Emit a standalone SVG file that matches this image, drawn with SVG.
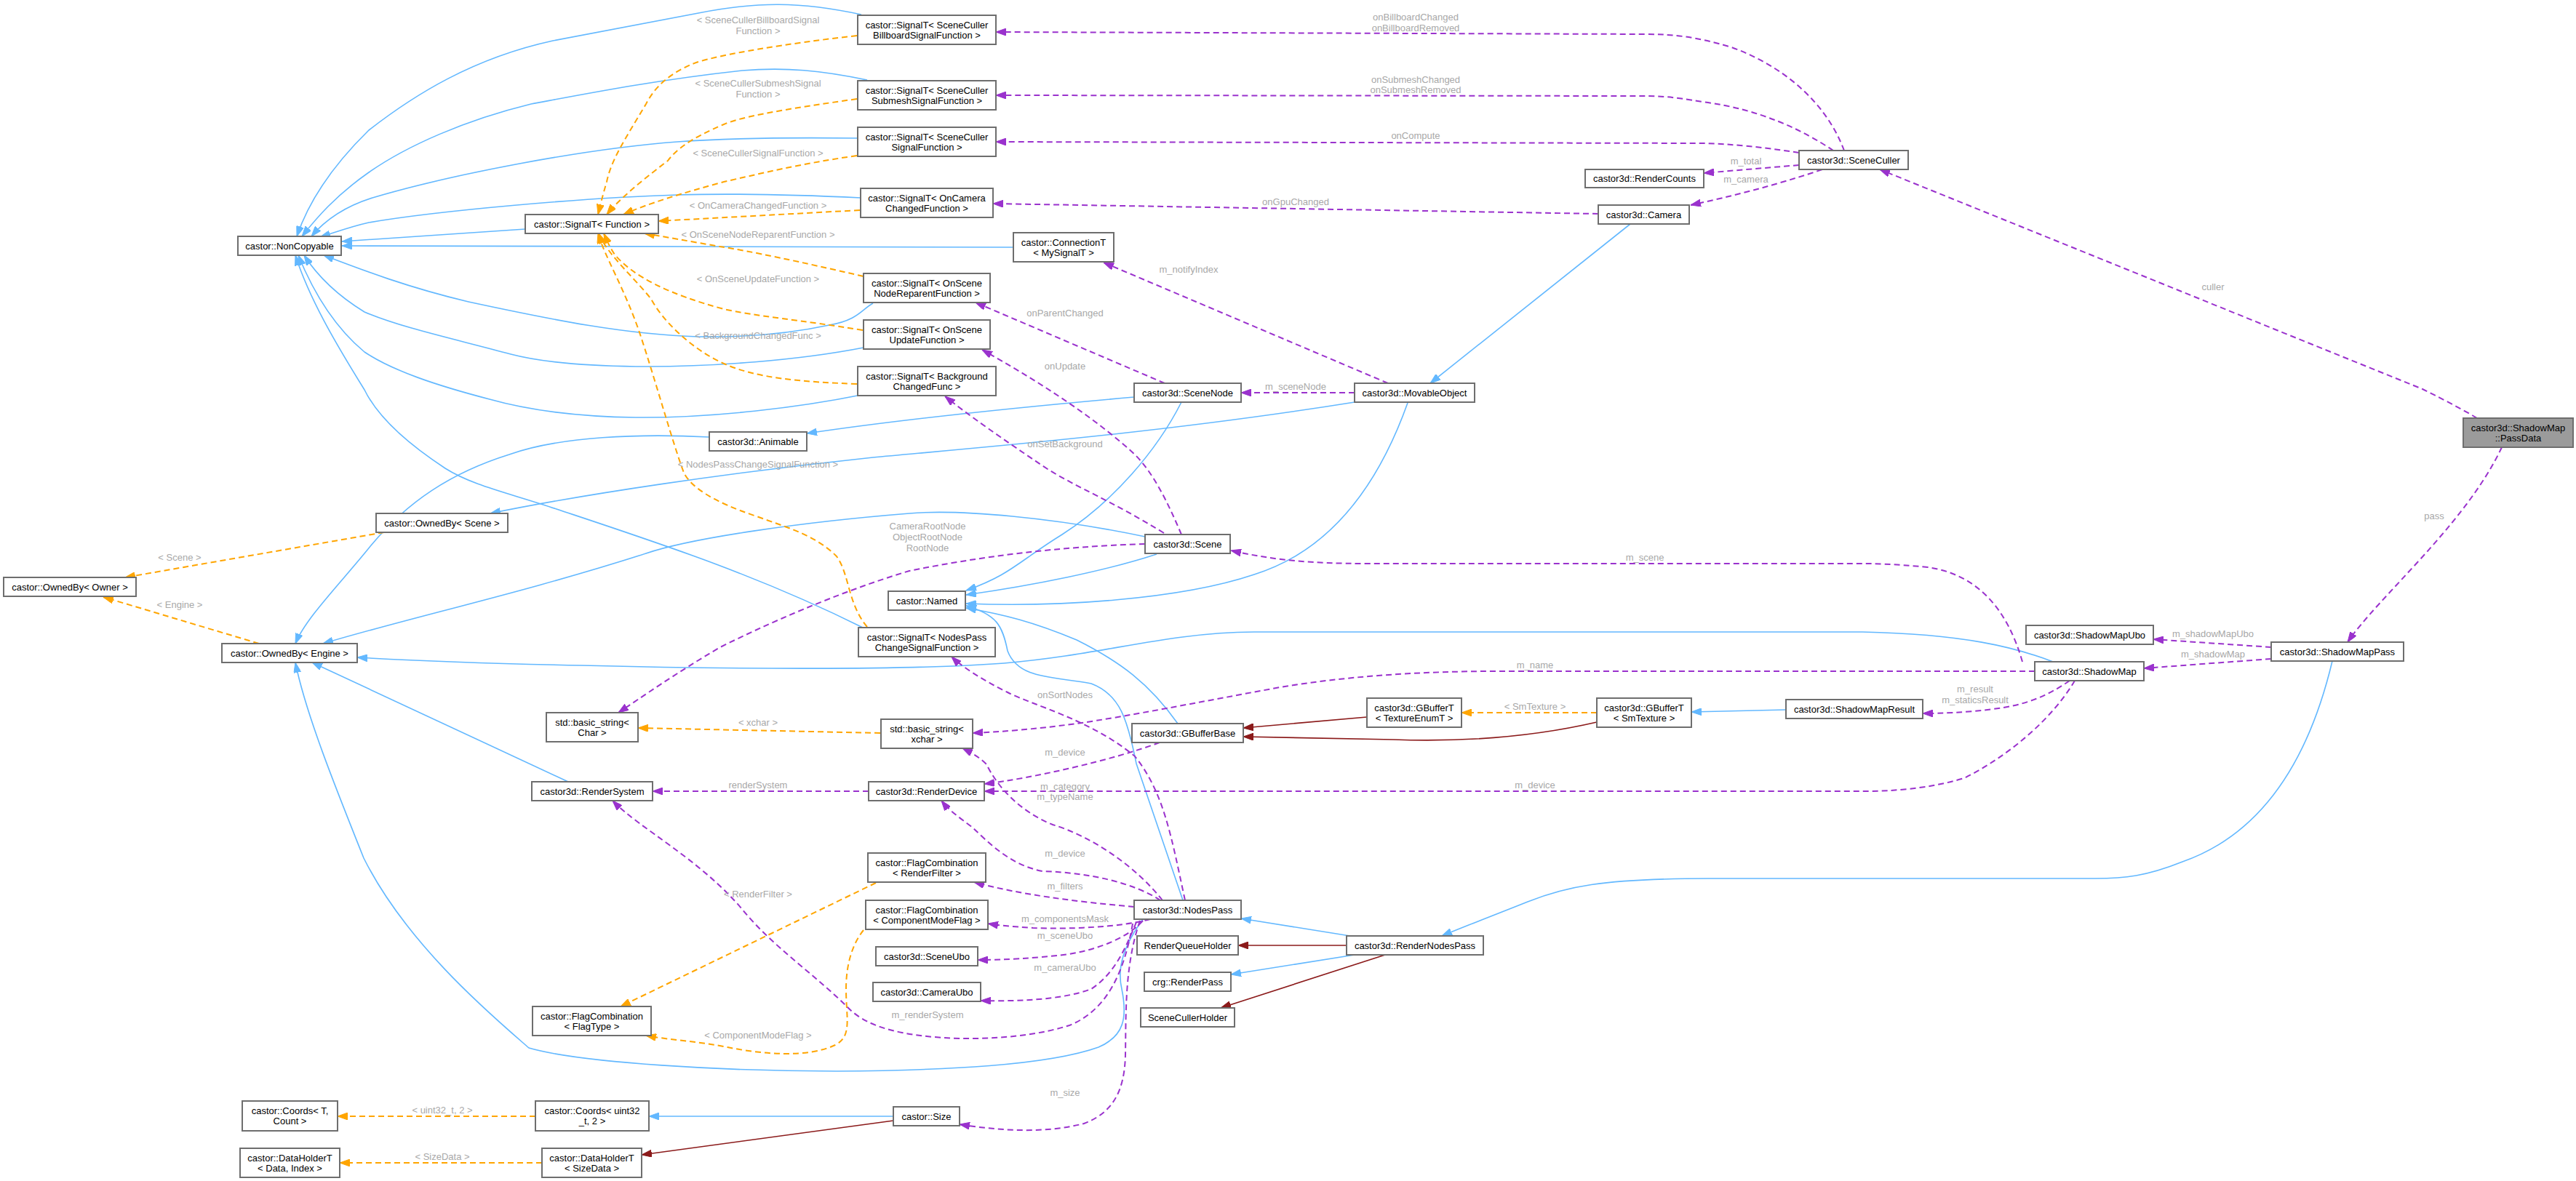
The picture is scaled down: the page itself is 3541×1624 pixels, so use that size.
<svg xmlns="http://www.w3.org/2000/svg" width="3541" height="1624" viewBox="0 0 3541 1624">
<defs>
<style>
.b{fill:none;stroke:#63b8ff;stroke-width:1.6}
.r{fill:none;stroke:#8b1a1a;stroke-width:1.6}
.o{fill:none;stroke:#ffa500;stroke-width:2;stroke-dasharray:8,5}
.p{fill:none;stroke:#9a32cd;stroke-width:2;stroke-dasharray:8,5}
.box{fill:#ffffff;stroke:#6e6e6e;stroke-width:2}
.grey{fill:#9b9b9b;stroke:#6e6e6e;stroke-width:2}
text{font-family:"Liberation Sans",Arial,sans-serif;font-size:13px}
.n{text-anchor:middle;fill:#000}
.l{text-anchor:middle;fill:#a8a8a8}
</style>
<marker id="ab" viewBox="0 0 14 10" refX="14" refY="5" markerWidth="14" markerHeight="10" markerUnits="userSpaceOnUse" orient="auto"><path d="M0,0 L14,5 L0,10 z" fill="#63b8ff" stroke="#63b8ff"/></marker>
<marker id="ar" viewBox="0 0 14 10" refX="14" refY="5" markerWidth="14" markerHeight="10" markerUnits="userSpaceOnUse" orient="auto"><path d="M0,0 L14,5 L0,10 z" fill="#8b1a1a" stroke="#8b1a1a"/></marker>
<marker id="ao" viewBox="0 0 14 10" refX="14" refY="5" markerWidth="14" markerHeight="10" markerUnits="userSpaceOnUse" orient="auto"><path d="M0,0 L14,5 L0,10 z" fill="#ffa500" stroke="#ffa500"/></marker>
<marker id="ap" viewBox="0 0 14 10" refX="14" refY="5" markerWidth="14" markerHeight="10" markerUnits="userSpaceOnUse" orient="auto"><path d="M0,0 L14,5 L0,10 z" fill="#9a32cd" stroke="#9a32cd"/></marker>
</defs>
<rect width="3541" height="1624" fill="#ffffff"/>
<g id="edges">
<!-- blue inheritance -->
<path class="b" marker-end="url(#ab)" d="M1184,20 C1100,2 1040,2 960,18 L760,56 C650,80 570,130 507,179 C460,225 425,275 408,325"/>
<path class="b" marker-end="url(#ab)" d="M1192,110 C1130,97 1080,92 1020,97 C900,110 800,130 730,143 C640,165 560,200 507,237 C460,270 435,300 415,325"/>
<path class="b" marker-end="url(#ab)" d="M1179,190 C1100,189 1000,190 931,195 C800,205 620,240 512,272 C470,285 445,305 428,325"/>
<path class="b" marker-end="url(#ab)" d="M1183,272 C1100,268 1000,266 931,268 C800,272 600,290 507,306 C480,312 460,320 440,326"/>
<path class="b" marker-end="url(#ab)" d="M722,315 L470,332"/>
<path class="b" marker-end="url(#ab)" d="M1393,340 L470,338"/>
<path class="b" marker-end="url(#ab)" d="M1200,417 C1185,425 1180,440 1140,447 C1080,460 1020,464 960,463 C860,460 760,440 644,415 C560,395 500,372 445,351"/>
<path class="b" marker-end="url(#ab)" d="M1187,478 C1100,495 980,505 874,504 C800,503 740,497 702,487 C620,465 550,450 501,429 C470,410 440,385 418,351"/>
<path class="b" marker-end="url(#ab)" d="M1184,543 C1100,560 980,575 874,574 C800,573 730,565 673,549 C600,530 540,510 501,484 C460,450 430,400 410,351"/>
<path class="b" marker-end="url(#ab)" d="M1186,863 C1040,790 900,745 765,700 C700,678 650,668 612,644 C560,610 520,575 501,536 C460,470 425,410 406,351"/>
<path class="b" marker-end="url(#ab)" d="M975,601 C880,596 770,600 700,625 C620,650 560,690 510,750 C470,800 420,850 406,885"/>
<path class="b" marker-end="url(#ab)" d="M1574,738 C1450,712 1320,700 1250,706 C1100,718 950,740 888,761 C720,815 560,850 444,885"/>
<path class="b" marker-end="url(#ab)" d="M2822,910 C2770,890 2700,872 2560,869 L1724,869 C1600,870 1520,900 1380,912 C1250,922 1000,920 800,915 C650,912 560,908 491,904"/>
<path class="b" marker-end="url(#ab)" d="M1571,1264 C1545,1300 1535,1330 1542,1360 C1550,1400 1545,1425 1510,1440 C1440,1465 1300,1472 1150,1473 C1000,1473 800,1462 727,1441 C680,1400 560,1300 500,1180 C460,1080 420,980 406,911"/>
<path class="b" marker-end="url(#ab)" d="M781,1075 L429,911"/>
<path class="b" marker-end="url(#ab)" d="M1862,553 C1600,595 1350,615 1200,629 C1000,650 800,680 674,706"/>
<path class="b" marker-end="url(#ab)" d="M1559,546 C1400,560 1250,575 1109,596"/>
<path class="b" marker-end="url(#ab)" d="M1624,553 C1590,620 1530,690 1460,735 C1400,772 1390,790 1328,812"/>
<path class="b" marker-end="url(#ab)" d="M1590,762 C1520,785 1420,805 1328,818"/>
<path class="b" marker-end="url(#ab)" d="M1935,554 C1890,680 1820,760 1724,790 C1620,825 1450,835 1328,830"/>
<path class="b" marker-end="url(#ab)" d="M1619,995 C1580,940 1540,910 1480,880 C1420,855 1380,845 1328,836"/>
<path class="b" marker-end="url(#ab)" d="M1626,1238 L1562,1050 C1550,990 1540,955 1500,940 C1450,930 1400,935 1385,895 C1378,860 1370,845 1328,833"/>
<path class="b" marker-end="url(#ab)" d="M2241,308 L1966,527"/>
<path class="b" marker-end="url(#ab)" d="M2455,976 L2325,979"/>
<path class="b" marker-end="url(#ab)" d="M1862,1288 L1706,1263"/>
<path class="b" marker-end="url(#ab)" d="M1862,1313 L1692,1340"/>
<path class="b" marker-end="url(#ab)" d="M3206,909 C3170,1060 3100,1150 3000,1185 C2950,1205 2920,1208 2880,1208 L2350,1208 C2200,1208 2150,1220 2100,1240 C2050,1260 2010,1275 1982,1287"/>
<path class="b" marker-end="url(#ab)" d="M1228,1535 L892,1535"/>
<!-- dark red protected inheritance -->
<path class="r" marker-end="url(#ar)" d="M1879,986 L1709,1001"/>
<path class="r" marker-end="url(#ar)" d="M2195,993 C2100,1015 2000,1020 1915,1017 C1850,1016 1780,1014 1709,1013"/>
<path class="r" marker-end="url(#ar)" d="M1851,1300 L1702,1300"/>
<path class="r" marker-end="url(#ar)" d="M1904,1313 L1678,1386"/>
<path class="r" marker-end="url(#ar)" d="M1228,1541 L882,1588"/>
<!-- orange template instances -->
<path class="o" marker-end="url(#ao)" d="M1178,49 C1080,60 990,75 957,86 C920,100 900,120 888,143 C860,190 840,220 834,250 C828,270 825,283 822,295"/>
<path class="o" marker-end="url(#ao)" d="M1178,136 C1080,150 1020,160 995,171 C950,190 930,205 918,221 C880,250 850,275 834,295"/>
<path class="o" marker-end="url(#ao)" d="M1178,214 C1100,225 1040,240 995,250 C940,265 890,280 857,295"/>
<path class="o" marker-end="url(#ao)" d="M1182,289 L905,304"/>
<path class="o" marker-end="url(#ao)" d="M1187,380 C1100,360 1030,345 989,339 C950,332 910,325 886,321"/>
<path class="o" marker-end="url(#ao)" d="M1186,454 C1100,440 1040,435 995,425 C920,405 870,380 845,350 C838,340 834,330 830,321"/>
<path class="o" marker-end="url(#ao)" d="M1178,528 C1100,525 1040,520 995,500 C950,480 910,440 895,411 C870,380 835,350 823,321"/>
<path class="o" marker-end="url(#ao)" d="M1192,862 C1165,830 1168,790 1150,765 C1120,735 1080,725 1040,710 C980,690 950,670 940,650 C925,610 900,520 880,460 C860,400 830,350 822,321"/>
<path class="o" marker-end="url(#ao)" d="M528,732 L172,794"/>
<path class="o" marker-end="url(#ao)" d="M356,885 L142,821"/>
<path class="o" marker-end="url(#ao)" d="M1210,1008 L877,1001"/>
<path class="o" marker-end="url(#ao)" d="M2195,980 L2009,980"/>
<path class="o" marker-end="url(#ao)" d="M1204,1214 L853,1384"/>
<path class="o" marker-end="url(#ao)" d="M1187,1279 C1170,1300 1163,1330 1163,1360 C1163,1400 1172,1425 1148,1437 C1110,1455 1050,1450 1000,1440 C960,1432 920,1430 888,1424"/>
<path class="o" marker-end="url(#ao)" d="M736,1535 L464,1535"/>
<path class="o" marker-end="url(#ao)" d="M745,1599 L467,1599"/>
<!-- purple usage -->
<path class="p" marker-end="url(#ap)" d="M2535,207 C2510,140 2450,90 2380,65 C2330,50 2300,47 2260,47 L1369,44"/>
<path class="p" marker-end="url(#ap)" d="M2520,207 C2480,180 2420,150 2340,140 C2300,133 2280,132 2260,132 L1369,131"/>
<path class="p" marker-end="url(#ap)" d="M2473,210 C2420,202 2380,198 2340,197 L1369,195"/>
<path class="p" marker-end="url(#ap)" d="M2473,227 L2342,238"/>
<path class="p" marker-end="url(#ap)" d="M2505,233 C2440,255 2380,270 2324,282"/>
<path class="p" marker-end="url(#ap)" d="M2197,294 L1365,280"/>
<path class="p" marker-end="url(#ap)" d="M1908,527 L1517,361"/>
<path class="p" marker-end="url(#ap)" d="M1601,527 L1341,416"/>
<path class="p" marker-end="url(#ap)" d="M1624,735 C1605,690 1585,650 1560,625 C1500,570 1420,520 1350,481"/>
<path class="p" marker-end="url(#ap)" d="M1600,733 C1530,690 1480,670 1440,645 C1380,605 1330,570 1299,545"/>
<path class="p" marker-end="url(#ap)" d="M1862,540 L1706,540"/>
<path class="p" marker-end="url(#ap)" d="M1574,748 C1450,752 1350,765 1250,785 C1150,815 1050,860 990,890 C930,925 880,960 850,980"/>
<path class="p" marker-end="url(#ap)" d="M2780,910 C2760,840 2720,790 2650,780 C2600,775 2570,775 2560,775 L1880,775 C1800,775 1750,770 1692,757"/>
<path class="p" marker-end="url(#ap)" d="M2797,923 L2060,923 C1950,923 1850,930 1760,945 C1650,965 1550,985 1480,995 C1420,1003 1380,1006 1337,1008"/>
<path class="p" marker-end="url(#ap)" d="M2845,936 C2810,960 2780,970 2740,975 C2700,980 2670,981 2643,981"/>
<path class="p" marker-end="url(#ap)" d="M2852,936 C2820,990 2760,1040 2700,1070 C2650,1085 2600,1088 2560,1088 L1353,1088"/>
<path class="p" marker-end="url(#ap)" d="M3122,890 L2960,879"/>
<path class="p" marker-end="url(#ap)" d="M3122,906 L2947,919"/>
<path class="p" marker-end="url(#ap)" d="M3439,615 C3390,720 3270,820 3227,883"/>
<path class="p" marker-end="url(#ap)" d="M3405,575 C3380,560 3350,545 3330,535 L2584,233"/>
<path class="p" marker-end="url(#ap)" d="M1594,1021 C1530,1045 1420,1070 1353,1078"/>
<path class="p" marker-end="url(#ap)" d="M1194,1088 L897,1088"/>
<path class="p" marker-end="url(#ap)" d="M1629,1238 C1610,1150 1600,1090 1560,1040 C1500,990 1420,970 1385,952 C1350,935 1320,915 1308,903"/>
<path class="p" marker-end="url(#ap)" d="M1598,1238 C1560,1190 1500,1150 1447,1134 C1400,1115 1370,1080 1356,1051 C1345,1040 1335,1035 1323,1029"/>
<path class="p" marker-end="url(#ap)" d="M1595,1238 C1560,1215 1500,1200 1433,1198 C1390,1190 1360,1160 1337,1138 C1320,1125 1305,1115 1294,1101"/>
<path class="p" marker-end="url(#ap)" d="M1559,1247 C1480,1240 1400,1230 1339,1213"/>
<path class="p" marker-end="url(#ap)" d="M1581,1264 C1540,1275 1470,1278 1420,1276 C1390,1274 1370,1272 1358,1270"/>
<path class="p" marker-end="url(#ap)" d="M1571,1266 C1550,1290 1510,1305 1470,1312 C1420,1318 1380,1320 1344,1320"/>
<path class="p" marker-end="url(#ap)" d="M1562,1268 C1545,1310 1530,1340 1500,1360 C1460,1375 1400,1377 1348,1376"/>
<path class="p" marker-end="url(#ap)" d="M1557,1270 C1545,1340 1520,1390 1470,1410 C1400,1432 1300,1432 1240,1420 C1200,1412 1180,1400 1165,1385 C1120,1340 1060,1300 1020,1250 C960,1180 880,1140 842,1101"/>
<path class="p" marker-end="url(#ap)" d="M1567,1266 C1545,1330 1548,1400 1547,1450 C1546,1500 1530,1530 1490,1545 C1440,1558 1380,1556 1319,1546"/>
</g>
<g id="labels">
<text class="l" x="1042" y="32">&lt; SceneCullerBillboardSignal</text>
<text class="l" x="1042" y="47">Function &gt;</text>
<text class="l" x="1042" y="119">&lt; SceneCullerSubmeshSignal</text>
<text class="l" x="1042" y="134">Function &gt;</text>
<text class="l" x="1042" y="215">&lt; SceneCullerSignalFunction &gt;</text>
<text class="l" x="1042" y="287">&lt; OnCameraChangedFunction &gt;</text>
<text class="l" x="1042" y="327">&lt; OnSceneNodeReparentFunction &gt;</text>
<text class="l" x="1042" y="388">&lt; OnSceneUpdateFunction &gt;</text>
<text class="l" x="1042" y="466">&lt; BackgroundChangedFunc &gt;</text>
<text class="l" x="1042" y="643">&lt; NodesPassChangeSignalFunction &gt;</text>
<text class="l" x="247" y="771">&lt; Scene &gt;</text>
<text class="l" x="247" y="836">&lt; Engine &gt;</text>
<text class="l" x="1042" y="998">&lt; xchar &gt;</text>
<text class="l" x="1042" y="1084">renderSystem</text>
<text class="l" x="1042" y="1234">&lt; RenderFilter &gt;</text>
<text class="l" x="1042" y="1428">&lt; ComponentModeFlag &gt;</text>
<text class="l" x="608" y="1531">&lt; uint32_t, 2 &gt;</text>
<text class="l" x="608" y="1595">&lt; SizeData &gt;</text>
<text class="l" x="1946" y="28">onBillboardChanged</text>
<text class="l" x="1946" y="43">onBillboardRemoved</text>
<text class="l" x="1946" y="114">onSubmeshChanged</text>
<text class="l" x="1946" y="128">onSubmeshRemoved</text>
<text class="l" x="1946" y="191">onCompute</text>
<text class="l" x="2400" y="226">m_total</text>
<text class="l" x="2400" y="251">m_camera</text>
<text class="l" x="1781" y="282">onGpuChanged</text>
<text class="l" x="1634" y="375">m_notifyIndex</text>
<text class="l" x="1464" y="435">onParentChanged</text>
<text class="l" x="1464" y="508">onUpdate</text>
<text class="l" x="1781" y="536">m_sceneNode</text>
<text class="l" x="3042" y="399">culler</text>
<text class="l" x="1464" y="615">onSetBackground</text>
<text class="l" x="1275" y="728">CameraRootNode</text>
<text class="l" x="1275" y="743">ObjectRootNode</text>
<text class="l" x="1275" y="758">RootNode</text>
<text class="l" x="2261" y="771">m_scene</text>
<text class="l" x="3346" y="714">pass</text>
<text class="l" x="3042" y="876">m_shadowMapUbo</text>
<text class="l" x="3042" y="904">m_shadowMap</text>
<text class="l" x="2110" y="919">m_name</text>
<text class="l" x="1464" y="960">onSortNodes</text>
<text class="l" x="2110" y="976">&lt; SmTexture &gt;</text>
<text class="l" x="2715" y="952">m_result</text>
<text class="l" x="2715" y="967">m_staticsResult</text>
<text class="l" x="1464" y="1039">m_device</text>
<text class="l" x="1464" y="1086">m_category</text>
<text class="l" x="1464" y="1100">m_typeName</text>
<text class="l" x="2110" y="1084">m_device</text>
<text class="l" x="1464" y="1178">m_device</text>
<text class="l" x="1464" y="1223">m_filters</text>
<text class="l" x="1464" y="1268">m_componentsMask</text>
<text class="l" x="1464" y="1291">m_sceneUbo</text>
<text class="l" x="1464" y="1335">m_cameraUbo</text>
<text class="l" x="1275" y="1400">m_renderSystem</text>
<text class="l" x="1464" y="1507">m_size</text>
</g>
<g id="n_noncopyable"><rect class="box" x="327" y="325" width="142" height="26"/><text class="n" x="398" y="342.5">castor::NonCopyable</text></g>
<g id="n_signal_function"><rect class="box" x="722" y="295" width="183" height="26"/><text class="n" x="813.5" y="312.5">castor::SignalT&lt; Function &gt;</text></g>
<g id="n_signal_billboard"><rect class="box" x="1179" y="21" width="190" height="40"/><text class="n" x="1274" y="38.5">castor::SignalT&lt; SceneCuller</text><text class="n" x="1274" y="52.5">BillboardSignalFunction &gt;</text></g>
<g id="n_signal_submesh"><rect class="box" x="1179" y="111" width="190" height="40"/><text class="n" x="1274" y="128.5">castor::SignalT&lt; SceneCuller</text><text class="n" x="1274" y="142.5">SubmeshSignalFunction &gt;</text></g>
<g id="n_signal_culler"><rect class="box" x="1179" y="175" width="190" height="40"/><text class="n" x="1274" y="192.5">castor::SignalT&lt; SceneCuller</text><text class="n" x="1274" y="206.5">SignalFunction &gt;</text></g>
<g id="n_signal_camera"><rect class="box" x="1183" y="259" width="182" height="40"/><text class="n" x="1274" y="276.5">castor::SignalT&lt; OnCamera</text><text class="n" x="1274" y="290.5">ChangedFunction &gt;</text></g>
<g id="n_connection"><rect class="box" x="1393" y="320" width="138" height="40"/><text class="n" x="1462" y="337.5">castor::ConnectionT</text><text class="n" x="1462" y="351.5">&lt; MySignalT &gt;</text></g>
<g id="n_signal_reparent"><rect class="box" x="1187" y="376" width="174" height="40"/><text class="n" x="1274" y="393.5">castor::SignalT&lt; OnScene</text><text class="n" x="1274" y="407.5">NodeReparentFunction &gt;</text></g>
<g id="n_signal_update"><rect class="box" x="1187" y="440" width="174" height="40"/><text class="n" x="1274" y="457.5">castor::SignalT&lt; OnScene</text><text class="n" x="1274" y="471.5">UpdateFunction &gt;</text></g>
<g id="n_signal_background"><rect class="box" x="1179" y="504" width="190" height="40"/><text class="n" x="1274" y="521.5">castor::SignalT&lt; Background</text><text class="n" x="1274" y="535.5">ChangedFunc &gt;</text></g>
<g id="n_rendercounts"><rect class="box" x="2179" y="233" width="163" height="25"/><text class="n" x="2260.5" y="250">castor3d::RenderCounts</text></g>
<g id="n_camera"><rect class="box" x="2197" y="282" width="125" height="26"/><text class="n" x="2259.5" y="299.5">castor3d::Camera</text></g>
<g id="n_sceneculler"><rect class="box" x="2473" y="207" width="150" height="26"/><text class="n" x="2548" y="224.5">castor3d::SceneCuller</text></g>
<g id="n_scenenode"><rect class="box" x="1559" y="527" width="147" height="26"/><text class="n" x="1632.5" y="544.5">castor3d::SceneNode</text></g>
<g id="n_movableobject"><rect class="box" x="1862" y="527" width="165" height="26"/><text class="n" x="1944.5" y="544.5">castor3d::MovableObject</text></g>
<g id="n_animable"><rect class="box" x="975" y="594" width="134" height="26"/><text class="n" x="1042" y="611.5">castor3d::Animable</text></g>
<g id="n_ownedby_scene"><rect class="box" x="517" y="706" width="181" height="26"/><text class="n" x="607.5" y="723.5">castor::OwnedBy&lt; Scene &gt;</text></g>
<g id="n_ownedby_owner"><rect class="box" x="5" y="794" width="182" height="26"/><text class="n" x="96" y="811.5">castor::OwnedBy&lt; Owner &gt;</text></g>
<g id="n_ownedby_engine"><rect class="box" x="305" y="885" width="186" height="26"/><text class="n" x="398" y="902.5">castor::OwnedBy&lt; Engine &gt;</text></g>
<g id="n_scene"><rect class="box" x="1574" y="735" width="117" height="26"/><text class="n" x="1632.5" y="752.5">castor3d::Scene</text></g>
<g id="n_named"><rect class="box" x="1221" y="813" width="106" height="26"/><text class="n" x="1274" y="830.5">castor::Named</text></g>
<g id="n_signal_nodespass"><rect class="box" x="1180" y="863" width="188" height="40"/><text class="n" x="1274" y="880.5">castor::SignalT&lt; NodesPass</text><text class="n" x="1274" y="894.5">ChangeSignalFunction &gt;</text></g>
<g id="n_string_char"><rect class="box" x="751" y="980" width="126" height="40"/><text class="n" x="814" y="997.5">std::basic_string&lt;</text><text class="n" x="814" y="1011.5">Char &gt;</text></g>
<g id="n_string_xchar"><rect class="box" x="1211" y="989" width="126" height="40"/><text class="n" x="1274" y="1006.5">std::basic_string&lt;</text><text class="n" x="1274" y="1020.5">xchar &gt;</text></g>
<g id="n_gbufferbase"><rect class="box" x="1556" y="995" width="153" height="26"/><text class="n" x="1632.5" y="1012.5">castor3d::GBufferBase</text></g>
<g id="n_gbuffert_enum"><rect class="box" x="1879" y="960" width="130" height="40"/><text class="n" x="1944" y="977.5">castor3d::GBufferT</text><text class="n" x="1944" y="991.5">&lt; TextureEnumT &gt;</text></g>
<g id="n_gbuffert_sm"><rect class="box" x="2195" y="960" width="130" height="40"/><text class="n" x="2260" y="977.5">castor3d::GBufferT</text><text class="n" x="2260" y="991.5">&lt; SmTexture &gt;</text></g>
<g id="n_shadowmapresult"><rect class="box" x="2455" y="962" width="188" height="26"/><text class="n" x="2549" y="979.5">castor3d::ShadowMapResult</text></g>
<g id="n_shadowmapubo"><rect class="box" x="2785" y="860" width="175" height="26"/><text class="n" x="2872.5" y="877.5">castor3d::ShadowMapUbo</text></g>
<g id="n_shadowmap"><rect class="box" x="2797" y="910" width="150" height="26"/><text class="n" x="2872" y="927.5">castor3d::ShadowMap</text></g>
<g id="n_shadowmappass"><rect class="box" x="3122" y="883" width="182" height="26"/><text class="n" x="3213" y="900.5">castor3d::ShadowMapPass</text></g>
<g id="n_passdata"><rect class="grey" x="3386" y="575" width="151" height="40"/><text class="n" x="3461.5" y="592.5">castor3d::ShadowMap</text><text class="n" x="3461.5" y="606.5">::PassData</text></g>
<g id="n_rendersystem"><rect class="box" x="731" y="1075" width="166" height="26"/><text class="n" x="814" y="1092.5">castor3d::RenderSystem</text></g>
<g id="n_renderdevice"><rect class="box" x="1194" y="1075" width="159" height="26"/><text class="n" x="1273.5" y="1092.5">castor3d::RenderDevice</text></g>
<g id="n_flag_renderfilter"><rect class="box" x="1193" y="1173" width="162" height="40"/><text class="n" x="1274" y="1190.5">castor::FlagCombination</text><text class="n" x="1274" y="1204.5">&lt; RenderFilter &gt;</text></g>
<g id="n_flag_componentmode"><rect class="box" x="1190" y="1238" width="168" height="40"/><text class="n" x="1274" y="1255.5">castor::FlagCombination</text><text class="n" x="1274" y="1269.5">&lt; ComponentModeFlag &gt;</text></g>
<g id="n_sceneubo"><rect class="box" x="1204" y="1302" width="140" height="26"/><text class="n" x="1274" y="1319.5">castor3d::SceneUbo</text></g>
<g id="n_cameraubo"><rect class="box" x="1200" y="1351" width="148" height="26"/><text class="n" x="1274" y="1368.5">castor3d::CameraUbo</text></g>
<g id="n_nodespass"><rect class="box" x="1559" y="1238" width="147" height="26"/><text class="n" x="1632.5" y="1255.5">castor3d::NodesPass</text></g>
<g id="n_renderqueueholder"><rect class="box" x="1563" y="1287" width="139" height="26"/><text class="n" x="1632.5" y="1304.5">RenderQueueHolder</text></g>
<g id="n_rendernodespass"><rect class="box" x="1851" y="1287" width="188" height="26"/><text class="n" x="1945" y="1304.5">castor3d::RenderNodesPass</text></g>
<g id="n_crg_renderpass"><rect class="box" x="1573" y="1337" width="119" height="26"/><text class="n" x="1632.5" y="1354.5">crg::RenderPass</text></g>
<g id="n_scenecullerholder"><rect class="box" x="1568" y="1386" width="129" height="26"/><text class="n" x="1632.5" y="1403.5">SceneCullerHolder</text></g>
<g id="n_flag_flagtype"><rect class="box" x="732" y="1384" width="163" height="40"/><text class="n" x="813.5" y="1401.5">castor::FlagCombination</text><text class="n" x="813.5" y="1415.5">&lt; FlagType &gt;</text></g>
<g id="n_size"><rect class="box" x="1228" y="1522" width="91" height="26"/><text class="n" x="1273.5" y="1539.5">castor::Size</text></g>
<g id="n_coords_t"><rect class="box" x="333" y="1514" width="131" height="41"/><text class="n" x="398.5" y="1531.5">castor::Coords&lt; T,</text><text class="n" x="398.5" y="1545.5">Count &gt;</text></g>
<g id="n_coords_uint"><rect class="box" x="736" y="1514" width="156" height="41"/><text class="n" x="814" y="1531.5">castor::Coords&lt; uint32</text><text class="n" x="814" y="1545.5">_t, 2 &gt;</text></g>
<g id="n_dataholder_t"><rect class="box" x="330" y="1579" width="137" height="40"/><text class="n" x="398.5" y="1596.5">castor::DataHolderT</text><text class="n" x="398.5" y="1610.5">&lt; Data, Index &gt;</text></g>
<g id="n_dataholder_size"><rect class="box" x="745" y="1579" width="137" height="40"/><text class="n" x="813.5" y="1596.5">castor::DataHolderT</text><text class="n" x="813.5" y="1610.5">&lt; SizeData &gt;</text></g>
</svg>
